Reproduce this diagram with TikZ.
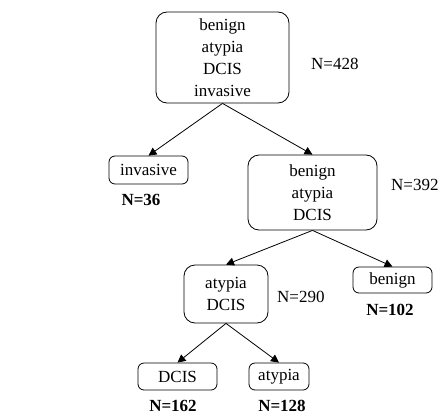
\documentclass[tikz,border=0pt]{standalone}
\usepackage{fontspec}
\setmainfont{Liberation Serif}
\usetikzlibrary{arrows.meta, positioning}

\begin{document}
\begin{tikzpicture}[
    x=1pt, y=-1pt,
    box/.style={
        draw,
        rectangle,
        rounded corners=6pt,
        line width=0.8pt,
        align=center,
        font=\fontsize{17}{22}\selectfont,
        inner sep=0pt
    },
    bigbox/.style={box, rounded corners=11pt},
    count/.style={font=\fontsize{17}{20}\selectfont, inner sep=0pt, anchor=west},
    bcount/.style={font=\fontsize{17}{20}\selectfont\bfseries, inner sep=0pt},
    arrow/.style={-{Triangle[length=8pt, width=8pt]}, line width=0.8pt}
]
\useasboundingbox (0,0) rectangle (438,415);

% === Root ===
\node[bigbox, minimum width=133pt, minimum height=91pt] (root) at (222.5,57.5)
    {benign\\atypia\\DCIS\\invasive};
\node[count] (nroot) at (311,64) {N=428};

% === First split ===
\node[box, minimum width=79pt, minimum height=28pt] (invasive) at (148.5,170) {invasive};
\node[bcount] (ninvasive) at (141,200) {N=36};

\node[bigbox, minimum width=129pt, minimum height=75pt] (rest) at (312.5,192.5)
    {benign\\atypia\\DCIS};
\node[count] (nrest) at (391,185) {N=392};

% === Second split ===
\node[bigbox, minimum width=84pt, minimum height=58pt] (atydcis) at (226,294)
    {atypia\\DCIS};
\node[count] (natydcis) at (277,297) {N=290};

\node[box, minimum width=79pt, minimum height=26pt] (benign) at (392.5,280) {benign};
\node[bcount] (nbenign) at (390,310) {N=102};

% === Leaves ===
\node[box, minimum width=79pt, minimum height=27pt] (dcis) at (177.5,376.5) {DCIS};
\node[bcount] (ndcis) at (173,406) {N=162};

\node[box, minimum width=60pt, minimum height=27pt] (atypia) at (279,376.5) {atypia};
\node[bcount] (natypia) at (282,406) {N=128};

% ============ ARROWS ============
\draw[arrow] (root.south) -- (invasive.north);
\draw[arrow] (root.south) -- (rest.north);
\draw[arrow] (rest.south) -- (atydcis.north);
\draw[arrow] (rest.south) -- (benign.north);
\draw[arrow] (atydcis.south) -- (dcis.north);
\draw[arrow] (atydcis.south) -- (atypia.north);

\end{tikzpicture}
\end{document}
